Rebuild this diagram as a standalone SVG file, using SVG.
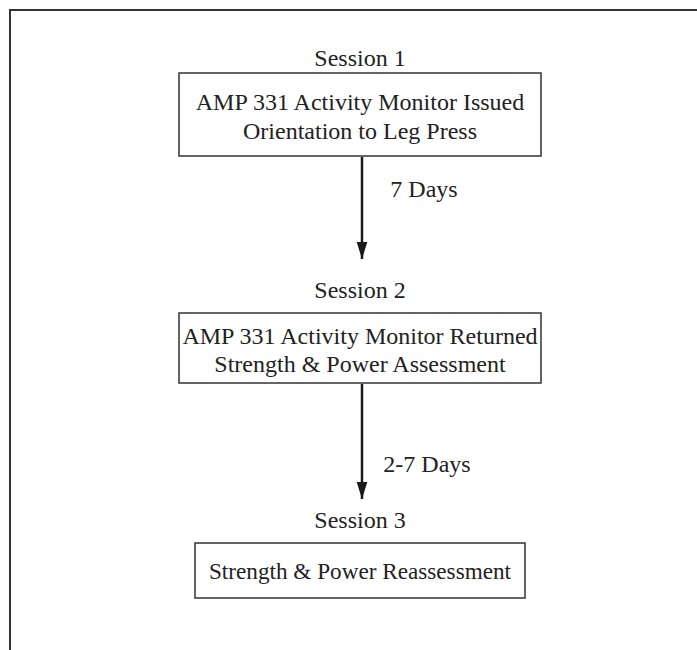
<svg xmlns="http://www.w3.org/2000/svg" width="697" height="650" viewBox="0 0 697 650">
<defs>
<style>
.t{font-family:"Liberation Serif","Times New Roman",serif;font-size:24px;fill:#222;text-anchor:middle}
.box{fill:#fff;stroke:#333;stroke-width:1.5}
.frame{fill:none;stroke:#333;stroke-width:2}
.conn{stroke:#1a1a1a;stroke-width:2.5;fill:none}
</style>
<marker id="ah" viewBox="0 0 16 10" refX="16" refY="5" markerWidth="7" markerHeight="4.6" markerUnits="strokeWidth" orient="auto">
<path d="M0,0 L16,5 L0,10 z" fill="#1a1a1a"/>
</marker>
</defs>
<rect width="697" height="650" fill="#fff"/>
<path class="frame" d="M10,650 L10,10 L697,10"/>
<g id="session1">
<text class="t" x="360" y="66">Session 1</text>
<rect class="box" x="179" y="73" width="362" height="83"/>
<text class="t" x="360" y="110">AMP 331 Activity Monitor Issued</text>
<text class="t" x="360" y="139">Orientation to Leg Press</text>
</g>
<g id="session2">
<text class="t" x="360" y="298">Session 2</text>
<rect class="box" x="179" y="313" width="362" height="70"/>
<text class="t" x="360" y="344">AMP 331 Activity Monitor Returned</text>
<text class="t" x="360" y="372">Strength &amp; Power Assessment</text>
</g>
<g id="session3">
<text class="t" x="360" y="528">Session 3</text>
<rect class="box" x="195" y="543" width="330" height="55"/>
<text class="t" x="360" y="579" style="font-size:23.2px">Strength &amp; Power Reassessment</text>
</g>
<g id="connectors">
<line class="conn" x1="362" y1="157" x2="362" y2="259" marker-end="url(#ah)"/>
<line class="conn" x1="362" y1="384" x2="362" y2="499" marker-end="url(#ah)"/>
<text class="t" x="424" y="197">7 Days</text>
<text class="t" x="427" y="472">2-7 Days</text>
</g>
</svg>
